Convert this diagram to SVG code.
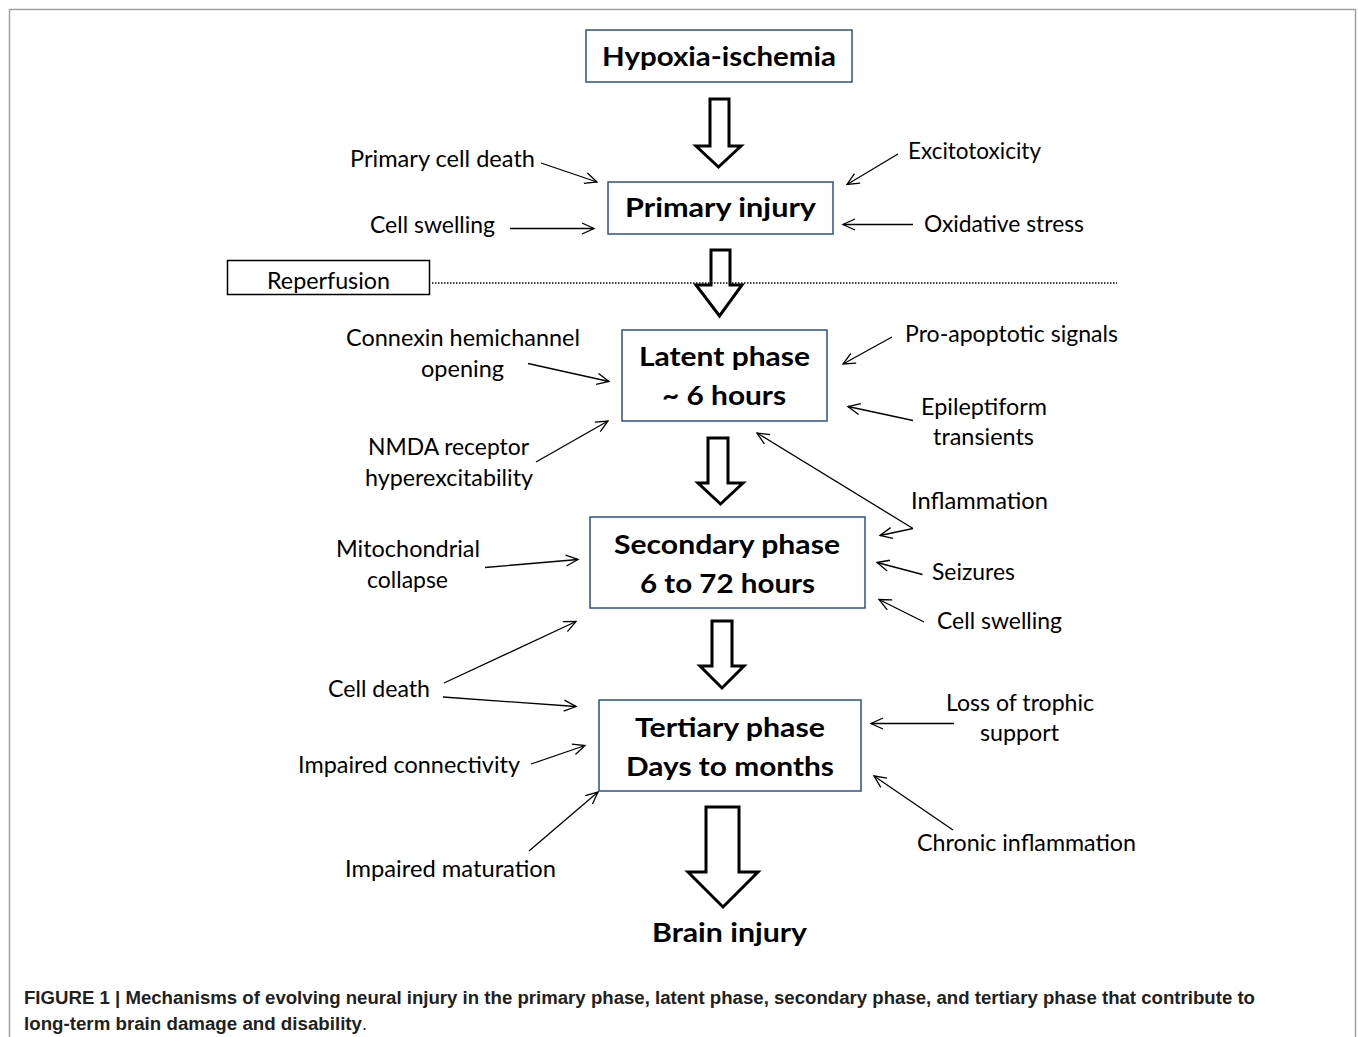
<svg xmlns="http://www.w3.org/2000/svg" width="1358" height="1037" viewBox="0 0 1358 1037">
<defs>
<style>
.lbl{font-family:Lato,"Open Sans","Noto Sans",sans-serif;font-size:23px;fill:#000}
.bold{font-family:Lato,"Open Sans","Noto Sans",sans-serif;font-size:27px;font-weight:bold;fill:#000}
.box{fill:#fff;stroke:#2f4f8f;stroke-width:1.5}
.blk{fill:#fff;stroke:#000;stroke-width:3;stroke-linejoin:miter}
.thin{fill:none;stroke:#000;stroke-width:1.3;marker-end:url(#ah)}
.cap{font-family:"Liberation Sans",Arial,sans-serif;font-size:18px;font-weight:bold;fill:#231f20}
</style>
<marker id="ah" viewBox="-14 -8 16 16" refX="0" refY="0" markerWidth="16" markerHeight="16" markerUnits="userSpaceOnUse" orient="auto">
<path d="M-12,-5.5 L0,0 L-12,5.5" fill="none" stroke="#000" stroke-width="1.3"/>
</marker>
</defs>
<rect width="1358" height="1037" fill="#fff"/>
<path d="M9.5,1037 V9.5 H1355.5 V1037" fill="none" stroke="#a0a0a0" stroke-width="1.5"/>

<g id="hypoxia"><rect class="box" x="586" y="30" width="266" height="52"/><text class="bold" x="602" y="66" textLength="234" lengthAdjust="spacingAndGlyphs">Hypoxia-ischemia</text></g>
<g id="primary"><rect class="box" x="608" y="182" width="225" height="52"/><text class="bold" x="625" y="217" textLength="191" lengthAdjust="spacingAndGlyphs">Primary injury</text></g>
<g id="reperfusion"><rect x="227.5" y="260.5" width="202" height="34" fill="#fff" stroke="#000" stroke-width="1.5"/><text class="lbl" x="267" y="289" textLength="123" lengthAdjust="spacingAndGlyphs">Reperfusion</text></g>
<g id="latent"><rect class="box" x="622" y="330" width="205" height="91"/><text class="bold" x="639" y="366" textLength="171" lengthAdjust="spacingAndGlyphs">Latent phase</text><text class="bold" x="662" y="405" textLength="124" lengthAdjust="spacingAndGlyphs">~ 6 hours</text></g>
<g id="secondary"><rect class="box" x="590" y="517" width="275" height="91"/><text class="bold" x="614" y="554" textLength="226" lengthAdjust="spacingAndGlyphs">Secondary phase</text><text class="bold" x="640" y="593" textLength="175" lengthAdjust="spacingAndGlyphs">6 to 72 hours</text></g>
<g id="tertiary"><rect class="box" x="599" y="700" width="262" height="91"/><text class="bold" x="635" y="737" textLength="190" lengthAdjust="spacingAndGlyphs">Tertiary phase</text><text class="bold" x="626" y="776" textLength="208" lengthAdjust="spacingAndGlyphs">Days to months</text></g>
<g id="brain"><text class="bold" x="652" y="942" textLength="155" lengthAdjust="spacingAndGlyphs">Brain injury</text></g>

<g id="labels">
<text class="lbl" x="350" y="167" textLength="185" lengthAdjust="spacingAndGlyphs">Primary cell death</text>
<text class="lbl" x="370" y="233" textLength="125" lengthAdjust="spacingAndGlyphs">Cell swelling</text>
<text class="lbl" x="908" y="159" textLength="133" lengthAdjust="spacingAndGlyphs">Excitotoxicity</text>
<text class="lbl" x="924" y="232" textLength="160" lengthAdjust="spacingAndGlyphs">Oxidative stress</text>
<text class="lbl" x="346" y="346" textLength="234" lengthAdjust="spacingAndGlyphs">Connexin hemichannel</text>
<text class="lbl" x="421" y="377" textLength="83" lengthAdjust="spacingAndGlyphs">opening</text>
<text class="lbl" x="368" y="455" textLength="161" lengthAdjust="spacingAndGlyphs">NMDA receptor</text>
<text class="lbl" x="365" y="486" textLength="168" lengthAdjust="spacingAndGlyphs">hyperexcitability</text>
<text class="lbl" x="905" y="342" textLength="213" lengthAdjust="spacingAndGlyphs">Pro-apoptotic signals</text>
<text class="lbl" x="921" y="415" textLength="126" lengthAdjust="spacingAndGlyphs">Epileptiform</text>
<text class="lbl" x="933" y="445" textLength="101" lengthAdjust="spacingAndGlyphs">transients</text>
<text class="lbl" x="911" y="509" textLength="137" lengthAdjust="spacingAndGlyphs">Inflammation</text>
<text class="lbl" x="932" y="580" textLength="83" lengthAdjust="spacingAndGlyphs">Seizures</text>
<text class="lbl" x="937" y="629" textLength="125" lengthAdjust="spacingAndGlyphs">Cell swelling</text>
<text class="lbl" x="336" y="557" textLength="144" lengthAdjust="spacingAndGlyphs">Mitochondrial</text>
<text class="lbl" x="367" y="588" textLength="81" lengthAdjust="spacingAndGlyphs">collapse</text>
<text class="lbl" x="328" y="697" textLength="102" lengthAdjust="spacingAndGlyphs">Cell death</text>
<text class="lbl" x="298" y="773" textLength="222" lengthAdjust="spacingAndGlyphs">Impaired connectivity</text>
<text class="lbl" x="345" y="877" textLength="211" lengthAdjust="spacingAndGlyphs">Impaired maturation</text>
<text class="lbl" x="946" y="711" textLength="148" lengthAdjust="spacingAndGlyphs">Loss of trophic</text>
<text class="lbl" x="980" y="741" textLength="79" lengthAdjust="spacingAndGlyphs">support</text>
<text class="lbl" x="917" y="851" textLength="219" lengthAdjust="spacingAndGlyphs">Chronic inflammation</text>
</g>

<g id="connectors">
<polygon class="blk" points="710,99 729,99 729,146 741,146 718.5,167 696,146 710,146"/>
<polygon class="blk" points="711,250 730,250 730,285 742,285 719.5,316 696,285 711,285"/>
<polygon class="blk" points="708,438 728,438 728,483 743,483 720.5,504 698,483 708,483"/>
<polygon class="blk" points="712,621 732,621 732,666 744,666 722,688 700,666 712,666"/>
<polygon class="blk" points="706,807 739,807 739,872 758,872 723,907 688,872 706,872"/>
<line x1="432" y1="283" x2="1117" y2="283" stroke="#000" stroke-width="1.5" stroke-dasharray="1.5 1.5"/>
<line class="thin" x1="541" y1="163" x2="597" y2="182"/>
<line class="thin" x1="510" y1="228.5" x2="594" y2="228.5"/>
<line class="thin" x1="898" y1="154" x2="847" y2="184.5"/>
<line class="thin" x1="913" y1="224.5" x2="843" y2="224.5"/>
<line class="thin" x1="528" y1="363.5" x2="609" y2="381.5"/>
<line class="thin" x1="536" y1="462" x2="608" y2="421"/>
<line class="thin" x1="892" y1="337" x2="843" y2="364"/>
<line class="thin" x1="913" y1="420.5" x2="848" y2="406.5"/>
<line class="thin" x1="913" y1="528.5" x2="757" y2="433"/>
<line class="thin" x1="913" y1="528.5" x2="880" y2="535.5"/>
<line class="thin" x1="922.5" y1="574.5" x2="877" y2="562.5"/>
<line class="thin" x1="924" y1="622" x2="879" y2="599.5"/>
<line class="thin" x1="485" y1="567.5" x2="578" y2="559.5"/>
<line class="thin" x1="444" y1="683" x2="576" y2="621.5"/>
<line class="thin" x1="443" y1="697" x2="576" y2="706.5"/>
<line class="thin" x1="531" y1="764" x2="585" y2="745.5"/>
<line class="thin" x1="529" y1="851" x2="598" y2="792"/>
<line class="thin" x1="954" y1="723.5" x2="871" y2="723.5"/>
<line class="thin" x1="953" y1="830" x2="874" y2="776"/>
</g>

<g id="caption">
<text class="cap" x="24" y="1004" textLength="1231" lengthAdjust="spacingAndGlyphs">FIGURE 1 | Mechanisms of evolving neural injury in the primary phase, latent phase, secondary phase, and tertiary phase that contribute to</text>
<text class="cap" x="24" y="1030" textLength="338" lengthAdjust="spacingAndGlyphs">long-term brain damage and disability</text>
<text x="362" y="1030" font-family="Liberation Sans, Arial, sans-serif" font-size="18" fill="#231f20">.</text>
</g>
</svg>
